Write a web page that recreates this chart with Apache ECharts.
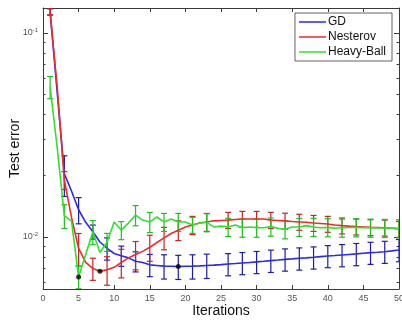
<!DOCTYPE html>
<html><head><meta charset="utf-8">
<script src="https://cdn.jsdelivr.net/npm/echarts@6/dist/echarts.min.js"></script>
<style>html,body{margin:0;padding:0;background:#fff}#c{width:402px;height:320px}</style>
</head><body><div id="c"></div>
<script>
const iterations = Array.from({length: 50}, (_, i) => i + 1);
const seriesNames = ['GD', 'Nesterov', 'Heavy-Ball'];
const gd = [0.127, 0.051, 0.0204, 0.0168, 0.0136, 0.0118, 0.0106, 0.00945, 0.0088, 0.0083,
  0.0081, 0.0079, 0.0076, 0.0075, 0.0073, 0.00725, 0.0072, 0.00719, 0.00716, 0.00719,
  0.0072, 0.00722, 0.00725, 0.00728, 0.00732, 0.00737, 0.00741, 0.00746, 0.0075, 0.00755,
  0.0076, 0.00766, 0.00771, 0.00777, 0.00781, 0.00786, 0.0079, 0.00795, 0.00801, 0.00807,
  0.00811, 0.00816, 0.00821, 0.00826, 0.00832, 0.00838, 0.00842, 0.00847, 0.00855, 0.00864];
const nesterov = [0.127, 0.0538, 0.019, 0.0125, 0.0088, 0.0075, 0.0070, 0.0068, 0.0069, 0.0071,
  0.0075, 0.0079, 0.0082, 0.0085, 0.0089, 0.0094, 0.0099, 0.0104, 0.0108, 0.0112,
  0.01145, 0.0117, 0.01185, 0.0120, 0.01205, 0.0121, 0.01218, 0.01225, 0.01225, 0.01225,
  0.01225, 0.0121, 0.01205, 0.0120, 0.0119, 0.01185, 0.0118, 0.0117, 0.01165, 0.01158,
  0.01145, 0.01137, 0.0113, 0.01124, 0.0112, 0.01115, 0.01113, 0.0111, 0.01103, 0.01094];
const heavyBall = [0.0544, 0.0273, 0.0127, 0.0120, 0.00637, 0.0082, 0.0106, 0.0084, 0.00945, 0.01185,
  0.0108, 0.0117, 0.0128, 0.0121, 0.01185, 0.01253, 0.01185, 0.01225, 0.01185, 0.01185,
  0.01145, 0.0117, 0.0118, 0.0112, 0.0113, 0.0112, 0.01145, 0.0111, 0.0112, 0.0111,
  0.0111, 0.01124, 0.01103, 0.0109, 0.0112, 0.0112, 0.01137, 0.0112, 0.0111, 0.01115,
  0.01103, 0.0111, 0.01113, 0.01115, 0.0111, 0.0111, 0.01107, 0.01107, 0.01105, 0.01103];
const errIters = [1, 3, 5, 7, 9, 11, 13, 15, 17, 19, 21, 23, 26, 28, 30, 32, 34, 36, 38, 40, 42, 44, 46, 48, 50];
const gdErr = [0.0045, 0.0046, 0.0020, 0.00084, 0.0011, 0.00092, 0.00086, 0.00091, 0.00098, 0.00097,
  0.00098, 0.00099, 0.00092, 0.00093, 0.00094, 0.00096, 0.00097, 0.00098, 0.00099, 0.0010,
  0.00102, 0.00103, 0.00104, 0.00105, 0.00108];
const nesterovErr = [0.0045, 0.0019, 0.0016, 0.00087, 0.0011, 0.0012, 0.0013, 0.0013, 0.00125, 0.0012,
  0.00117, 0.0012, 0.0011, 0.0011, 0.0011, 0.0011, 0.00108, 0.00107, 0.00105, 0.00104,
  0.00102, 0.00101, 0.0010, 0.0010, 0.00098];
const heavyBallErr = [0.0068, 0.0017, 0.0008, 0.00144, 0.00096, 0.0011, 0.00145, 0.00134, 0.0012, 0.0012,
  0.00103, 0.0012, 0.00114, 0.00113, 0.00113, 0.00115, 0.00111, 0.00114, 0.00114, 0.00114,
  0.00113, 0.00114, 0.00113, 0.00113, 0.00113];
const bestIters = [19, 8, 5];
const xTickValues = [0, 5, 10, 15, 20, 25, 30, 35, 40, 45, 50];
const yMajorTicks = [0.01, 0.1];
const yMinorTicks = [0.006, 0.007, 0.008, 0.009, 0.02, 0.03, 0.04, 0.05, 0.06, 0.07, 0.08, 0.09];
const xLabel = 'Iterations';
const yLabel = 'Test error';

const lineColors = ['#2a2ae8', '#ee2a2a', '#30e030'];
const errColors = ['#1c1ca8', '#c42424', '#1fbf1f'];
const axisColor = '#3a3a3a';
const font = "'Liberation Sans', Arial, sans-serif";
const yMin = Math.pow(10, -2.255), yMax = Math.pow(10, -0.8775);

const allVals = [gd, nesterov, heavyBall];
const allErrs = [gdErr, nesterovErr, heavyBallErr];

function lineSeries(k) {
  return {
    type: 'line', name: seriesNames[k], data: iterations.map((it, i) => [it, allVals[k][i]]),
    symbol: 'none', smooth: false, clip: true, z: 3 + k,
    lineStyle: {color: lineColors[k], width: 1.6}, itemStyle: {color: lineColors[k]}
  };
}
function errSeries(k) {
  const col = errColors[k];
  return {
    type: 'custom', name: seriesNames[k] + ' err', clip: true, silent: true, z: 2 + k,
    data: errIters.map((it, i) => [it, allVals[k][it - 1] - allErrs[k][i], allVals[k][it - 1] + allErrs[k][i]]),
    encode: {x: 0, y: [1, 2]},
    renderItem: function (params, api) {
      const x = api.value(0);
      const lo = api.coord([x, api.value(1)]);
      const hi = api.coord([x, api.value(2)]);
      const w = 3;
      const st = {stroke: col, lineWidth: 1.2};
      return {type: 'group', children: [
        {type: 'line', shape: {x1: lo[0], y1: lo[1], x2: hi[0], y2: hi[1]}, style: st},
        {type: 'line', shape: {x1: lo[0] - w, y1: lo[1], x2: lo[0] + w, y2: lo[1]}, style: st},
        {type: 'line', shape: {x1: hi[0] - w, y1: hi[1], x2: hi[0] + w, y2: hi[1]}, style: st}
      ]};
    }
  };
}

const yBase = {type: 'log', logBase: 10, min: yMin, max: yMax, offset: 0, splitLine: {show: false},
  axisLine: {show: true, lineStyle: {color: axisColor, width: 1}}};
const xBase = {type: 'value', min: 0, max: 50, interval: 5, splitLine: {show: false},
  axisLine: {show: true, onZero: false, lineStyle: {color: axisColor, width: 1}}};

const chart = echarts.init(document.getElementById('c'), null, {renderer: 'canvas'});
chart.setOption({
  animation: false,
  backgroundColor: '#fff',
  textStyle: {fontFamily: font},
  grid: {left: 43, right: 3, top: 8, bottom: 31, containLabel: false, outerBoundsMode: 'none'},
  legend: {
    data: seriesNames, orient: 'vertical', right: 10, top: 13,
    backgroundColor: '#fff', borderColor: axisColor, borderWidth: 0.8,
    padding: [3, 6, 3, 4], itemGap: 3, itemWidth: 27, itemHeight: 12,
    textStyle: {fontSize: 12, color: '#111', fontFamily: font, padding: [0, 0, 0, -3]},
    icon: 'path://M0,5 L27,5 L27,6.5 L0,6.5 Z'
  },
  xAxis: [
    Object.assign({}, xBase, {position: 'bottom',
      name: xLabel, nameLocation: 'middle', nameGap: 15, nameMoveOverlap: false,
      nameTextStyle: {fontSize: 14, color: '#111', fontFamily: font},
      axisTick: {inside: true, length: 4, customValues: xTickValues, lineStyle: {color: axisColor}},
      axisLabel: {customValues: xTickValues, fontSize: 9, color: '#555', margin: 5, fontFamily: font}}),
    Object.assign({}, xBase, {position: 'top',
      axisTick: {inside: true, length: 4, customValues: xTickValues, lineStyle: {color: axisColor}},
      axisLabel: {show: false}})
  ],
  yAxis: [
    Object.assign({}, yBase, {position: 'left',
      name: yLabel, nameLocation: 'middle', nameGap: 21, nameRotate: 90, nameMoveOverlap: false,
      nameTextStyle: {fontSize: 14, color: '#111', fontFamily: font},
      axisTick: {inside: true, length: 5, customValues: yMajorTicks, lineStyle: {color: axisColor}},
      axisLabel: {customValues: yMajorTicks, margin: 5, color: '#555', fontFamily: font,
        formatter: function (v) { return '{b|10}{s|' + Math.round(Math.log10(v)) + '}'; },
        rich: {b: {fontSize: 9, color: '#555'}, s: {fontSize: 6, color: '#555', verticalAlign: 'top', padding: [0, 0, 6, 0]}}}}),
    Object.assign({}, yBase, {position: 'left', axisLine: {show: false},
      axisTick: {inside: true, length: 2.5, customValues: yMinorTicks, lineStyle: {color: axisColor}},
      axisLabel: {show: false}}),
    Object.assign({}, yBase, {position: 'right',
      axisTick: {inside: true, length: 5, customValues: yMajorTicks, lineStyle: {color: axisColor}},
      axisLabel: {show: false}}),
    Object.assign({}, yBase, {position: 'right', axisLine: {show: false},
      axisTick: {inside: true, length: 2.5, customValues: yMinorTicks, lineStyle: {color: axisColor}},
      axisLabel: {show: false}})
  ],
  series: [
    errSeries(0), lineSeries(0),
    errSeries(1), lineSeries(1),
    errSeries(2), lineSeries(2),
    {type: 'scatter', name: 'best', symbol: 'circle', symbolSize: 5, z: 10, silent: true,
      itemStyle: {color: '#000'},
      data: bestIters.map((it, k) => [it, allVals[k][it - 1]])}
  ]
});
</script></body></html>
